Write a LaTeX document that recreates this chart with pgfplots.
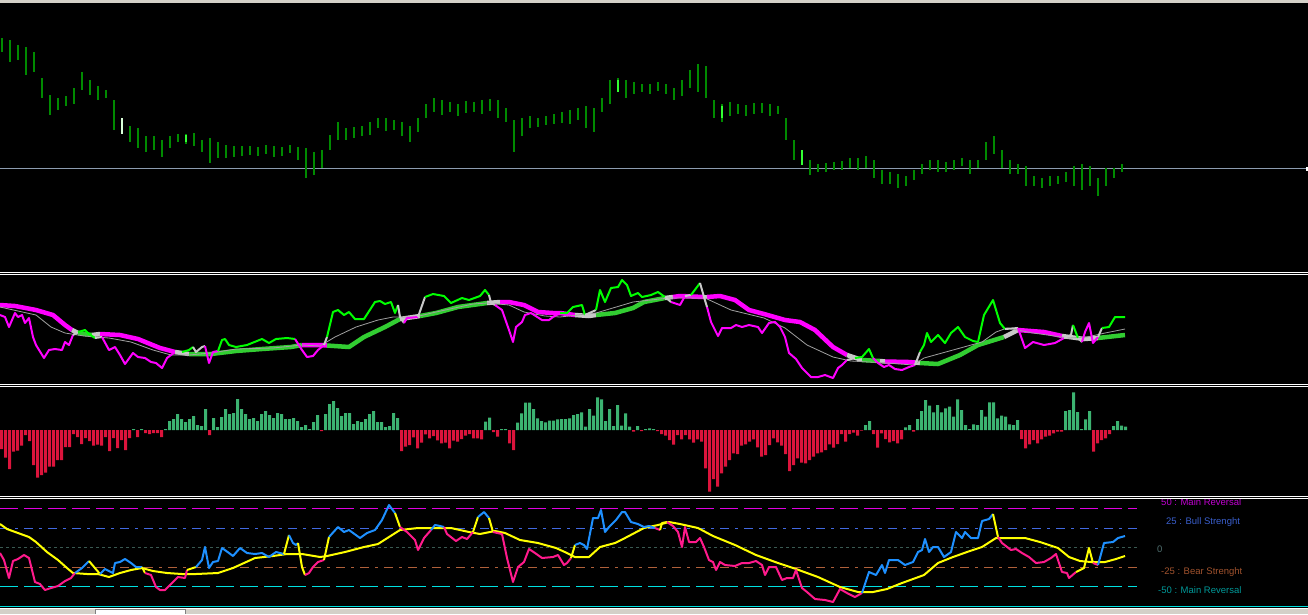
\documentclass[border=0pt]{standalone}
\usepackage{pgfplots}
\pgfplotsset{compat=1.18}
\usepackage{pgfplotstable}
\usepackage{fontspec}
\setmainfont{Liberation Sans}

\definecolor{win}{HTML}{D4D0C8}
\definecolor{barg}{HTML}{008A00}
\definecolor{barhi}{HTML}{33FF33}
\definecolor{pricel}{HTML}{8C9CB0}
\definecolor{mag}{HTML}{FF00FF}
\definecolor{lgreen}{HTML}{00FF00}
\definecolor{tgreen}{HTML}{32CD32}
\definecolor{xgray}{HTML}{C8C8C8}
\definecolor{sgray}{HTML}{A0A0A0}
\definecolor{hred}{HTML}{DC143C}
\definecolor{hgreen}{HTML}{3CB371}
\definecolor{opink}{HTML}{FF1A8C}
\definecolor{oblue}{HTML}{1E90FF}
\definecolor{oyel}{HTML}{FFFF00}
\definecolor{lvmag}{HTML}{E000E0}
\definecolor{lvblue}{HTML}{4169E1}
\definecolor{lvgray}{HTML}{3A5A52}
\definecolor{lvbrown}{HTML}{B0603A}
\definecolor{lvcyan}{HTML}{00E0E0}
\definecolor{lbmag}{HTML}{C000D0}
\definecolor{lbblue}{HTML}{3A5FCD}
\definecolor{lbgray}{HTML}{4F6F6F}
\definecolor{lbbrown}{HTML}{A0522D}
\definecolor{lbcyan}{HTML}{009999}

% panel 1: price bars, high/low in screen rows, one bar per 8 px
\pgfplotstableread[row sep=\\]{hi lo\\
38 52\\ 40 62\\ 45 60\\ 47 75\\ 52 72\\ 78 98\\ 95 115\\ 98 110\\ 96 106\\ 88 104\\
72 90\\ 80 95\\ 86 100\\ 90 98\\ 100 130\\ 118 134\\ 126 142\\ 128 148\\ 136 152\\ 136 150\\
140 157\\ 136 148\\ 134 142\\ 134 144\\ 133 146\\ 140 152\\ 138 163\\ 142 158\\ 145 158\\ 146 157\\
146 156\\ 146 155\\ 147 156\\ 145 154\\ 146 157\\ 147 156\\ 145 153\\ 147 160\\ 148 178\\ 152 175\\
150 168\\ 135 150\\ 122 140\\ 128 140\\ 127 138\\ 126 136\\ 122 135\\ 118 128\\ 118 131\\ 120 130\\
122 136\\ 126 142\\ 118 132\\ 104 118\\ 98 112\\ 100 115\\ 102 112\\ 104 116\\ 101 113\\ 102 112\\
100 114\\ 99 111\\ 100 118\\ 108 122\\ 120 152\\ 118 136\\ 116 128\\ 118 127\\ 116 125\\ 114 124\\
112 123\\ 110 124\\ 108 120\\ 106 128\\ 108 132\\ 98 112\\ 80 104\\ 78 92\\ 80 98\\ 82 94\\
84 92\\ 84 94\\ 82 91\\ 84 94\\ 88 100\\ 80 96\\ 70 88\\ 64 92\\ 66 98\\ 100 118\\
104 122\\ 102 116\\ 104 114\\ 105 116\\ 103 114\\ 103 113\\ 104 116\\ 106 114\\ 118 140\\ 140 160\\
150 165\\ 160 175\\ 164 172\\ 163 172\\ 162 170\\ 161 170\\ 158 168\\ 158 170\\ 156 168\\ 160 178\\
170 184\\ 172 184\\ 174 188\\ 176 186\\ 170 180\\ 164 174\\ 160 170\\ 160 172\\ 162 172\\ 160 170\\
158 166\\ 160 174\\ 160 168\\ 142 160\\ 136 154\\ 150 168\\ 160 174\\ 164 174\\ 166 186\\ 176 186\\
178 188\\ 176 186\\ 176 184\\ 172 182\\ 166 186\\ 164 190\\ 166 186\\ 178 196\\ 168 186\\ 168 178\\
164 172\\
}\bars
\pgfplotstableread[row sep=\\]{k hi lo\\ 23 135 142\\ 77 80 92\\ 90 106 118\\ 100 150 165\\}\barshi

% panel 2
\pgfplotstableread[row sep=\\]{x y\\
0 305\\ 15 306\\ 36 310\\ 53 315\\ 65 325\\ 72 330\\ 78 333\\ 92 335\\ 100 334\\ 120 335\\
138 339\\ 160 348\\ 175 352\\ 189 354\\ 211 354\\ 236 351\\ 262 349\\ 291 347\\ 302 345\\ 320 345\\
327 345.5\\ 349 347\\ 364 337\\ 385 327\\ 400 319\\ 420 316\\ 436 313\\ 458 307\\ 487 303\\ 500 302\\
509 302\\ 524 305\\ 538 312\\ 553 313\\ 560 313\\ 575 315\\ 589 316\\ 596 315\\ 615 313\\ 633 308\\
644 302\\ 665 298\\ 673 297\\ 680 296\\ 704 297\\ 707 297\\ 720 296\\ 735 300\\ 749 310\\ 764 314\\
785 320\\ 800 322\\ 815 330\\ 833 347\\ 847 355\\ 862 360\\ 880 361\\ 885 361.5\\ 909 362\\ 915 362.5\\
920 363\\ 938 364\\ 960 355\\ 978 345\\ 1004 337\\ 1018 330\\ 1044 332\\ 1062 336\\ 1084 339\\ 1098 338\\
1125 335\\
}\pthick
\pgfplotstableread[row sep=\\]{x y\\
0 315\\ 5 317\\ 9 327\\ 15 313\\ 18 317\\ 22 315\\ 25 323\\ 29 318\\ 33 337\\ 36 345\\
44 358\\ 49 350\\ 55 349\\ 62 350\\ 65 342\\ 69 345\\ 73 335\\ 78 332\\ 85 330\\ 89 334\\
95 338\\ 102 337\\ 109 350\\ 115 347\\ 120 355\\ 125 364\\ 133 353\\ 138 357\\ 145 358\\ 151 362\\
156 363\\ 162 368\\ 167 358\\ 175 352\\ 182 352\\ 189 350\\ 193 347\\ 196 352\\ 202 347\\ 205 346\\
209 363\\ 213 352\\ 218 351\\ 222 340\\ 225 339\\ 229 345\\ 236 347\\ 247 345\\ 262 339\\ 269 343\\
276 339\\ 287 338\\ 295 339\\ 302 350\\ 307 357\\ 313 356\\ 318 350\\ 324 345\\ 327 337\\ 333 312\\
338 310\\ 344 315\\ 349 312\\ 355 319\\ 364 319\\ 375 302\\ 380 301\\ 385 304\\ 391 302\\ 395 313\\
398 305\\ 400 317\\ 404 323\\ 407 318\\ 418 317\\ 425 297\\ 433 294\\ 444 296\\ 451 303\\ 462 298\\
469 300\\ 480 296\\ 485 290\\ 489 295\\ 491 303\\ 495 305\\ 502 310\\ 509 330\\ 513 342\\ 516 327\\
522 322\\ 525 315\\ 531 313\\ 542 320\\ 549 320\\ 553 317\\ 560 313\\ 567 313\\ 573 307\\ 582 305\\
585 315\\ 596 310\\ 600 290\\ 605 302\\ 611 288\\ 618 287\\ 622 280\\ 627 285\\ 631 296\\ 638 293\\
642 297\\ 651 295\\ 658 292\\ 665 297\\ 671 302\\ 680 305\\ 685 296\\ 691 295\\ 700 283\\ 704 297\\
707 307\\ 711 322\\ 718 336\\ 722 328\\ 731 328\\ 736 325\\ 742 327\\ 749 325\\ 758 327\\ 762 333\\
769 323\\ 775 322\\ 780 327\\ 785 337\\ 789 353\\ 796 359\\ 802 368\\ 811 377\\ 818 377\\ 825 375\\
833 378\\ 838 368\\ 842 365\\ 847 360\\ 855 358\\ 862 357\\ 869 349\\ 873 358\\ 878 363\\ 884 367\\
889 365\\ 895 369\\ 902 370\\ 909 367\\ 915 365\\ 920 352\\ 924 345\\ 927 333\\ 931 342\\ 938 335\\
945 343\\ 951 333\\ 958 327\\ 965 337\\ 973 341\\ 978 342\\ 984 315\\ 993 300\\ 1000 323\\ 1005 329\\
1018 328\\ 1025 348\\ 1033 342\\ 1044 345\\ 1055 343\\ 1064 338\\ 1071 335\\ 1073 325\\ 1078 338\\ 1082 342\\
1085 332\\ 1089 323\\ 1093 343\\ 1098 337\\ 1102 328\\ 1109 327\\ 1115 317\\ 1125 317\\
}\pthin
\pgfplotstableread[row sep=\\]{x y\\
0 307\\ 18 311\\ 36 315\\ 51 327\\ 65 333\\ 84 336\\ 109 338\\ 131 342\\ 153 350\\ 171 355\\
189 355\\ 211 353\\ 236 349\\ 273 348\\ 302 345\\ 320 346\\ 335 337\\ 356 327\\ 378 320\\ 393 317\\
415 317\\ 436 312\\ 473 304\\ 487 303\\ 509 305\\ 524 312\\ 545 316\\ 560 317\\ 596 313\\ 633 302\\
669 298\\ 705 298\\ 731 310\\ 764 318\\ 785 328\\ 807 345\\ 833 357\\ 851 361\\ 887 363\\ 913 365\\
924 358\\ 953 350\\ 982 342\\ 996 332\\ 1007 328\\ 1033 333\\ 1069 338\\ 1087 337\\ 1105 333\\ 1125 329\\
}\psmooth

% panel 3: histogram, px above (+) or below (-) the zero row, one bar per 4 px
\pgfplotstableread[row sep=\\]{h\\
-19\\ -27.7\\ -39\\ -21.7\\ -20.7\\ -15.7\\ -5\\ -11\\ -35\\ -47.7\\
-45\\ -42.7\\ -36.7\\ -36.7\\ -30\\ -30\\ -17\\ -17\\ -4\\ -7\\
-14\\ -8\\ -11\\ -15.7\\ -14.7\\ -15.7\\ -7\\ -21\\ -8\\ -18\\
-10\\ -20\\ -8\\ 1\\ -7\\ 1\\ -3\\ -4\\ -3\\ -3\\
-7\\ 1\\ 9\\ 11\\ 16\\ 11\\ 8\\ 11\\ 14\\ 5\\
4\\ 21\\ -5\\ 12\\ 3\\ 13\\ 21\\ 16\\ 17\\ 31\\
21\\ 16\\ 11\\ 12\\ 9\\ 16\\ 19\\ 15\\ 12\\ 17\\
16\\ 11\\ 11\\ 12\\ 9\\ 3\\ 5\\ 1\\ 8\\ 15\\
-1\\ 16\\ 26\\ 29\\ 22\\ 14\\ 17\\ 17\\ 6\\ 9\\
8\\ 11\\ 16\\ 19\\ 8\\ 8\\ 3\\ 4\\ 17\\ 12\\
-21\\ -16.7\\ -15\\ -7.3\\ -18.3\\ -12.7\\ -4.3\\ -8.3\\ -6\\ -10.3\\
-13.3\\ -12.7\\ -18.3\\ -10.7\\ -11.7\\ -9\\ -5.7\\ -4\\ -8.3\\ -8.3\\
-9.3\\ 8.3\\ 12.3\\ -2\\ -6.7\\ 1\\ 1\\ -13.3\\ -20\\ 7.3\\
16.7\\ 27.3\\ 27.3\\ 21\\ 11.7\\ 9\\ 7.7\\ 9.3\\ 9.3\\ 10.7\\
11\\ 11\\ 11.7\\ 15\\ 16\\ 17.7\\ 3.3\\ 21\\ 14.3\\ 32.7\\
30.7\\ 9\\ 21\\ 4\\ 25\\ 4.3\\ 16.7\\ 3.3\\ -1.7\\ 4\\
-1\\ 1\\ 1.7\\ 1\\ -1\\ -4\\ -5.7\\ -10\\ -14.7\\ -5\\
-9.3\\ -5\\ -9.3\\ -12.7\\ -9.3\\ -11.7\\ -38.3\\ -61.7\\ -49\\ -56.7\\
-43.3\\ -36.7\\ -30\\ -23.3\\ -24\\ -15.7\\ -14.3\\ -11.7\\ -9.3\\ -17.3\\
-26.7\\ -25\\ -15\\ -8.3\\ -12.3\\ -15.7\\ -24\\ -41\\ -35\\ -28.3\\
-32.7\\ -33.3\\ -30\\ -26.7\\ -23.3\\ -22.3\\ -20\\ -14.3\\ -17.7\\ -14\\
-4\\ -11.7\\ -4\\ -2.7\\ -5.7\\ -0.7\\ 5\\ 9\\ -4\\ -17.7\\
-3.3\\ -9\\ -12.3\\ -11\\ -13.3\\ -9.3\\ 2.7\\ 5\\ -1.7\\ 11\\
19\\ 30\\ 24.3\\ 17.7\\ 25\\ 17.7\\ 21.7\\ 23.3\\ 13.3\\ 30.7\\
20\\ 5\\ 1\\ 5.7\\ 5\\ 20\\ 13.3\\ 27.7\\ 27.7\\ 11.7\\
14.3\\ 13.3\\ 5.7\\ 5\\ 10\\ -9\\ -18.3\\ -14.3\\ -10\\ -13.3\\
-9.3\\ -6.7\\ -5.7\\ -3.3\\ -1.7\\ -1.7\\ 19\\ 20\\ 37.7\\ 18\\
1\\ 10.7\\ 19\\ -21.7\\ -13.3\\ -10\\ -8.3\\ -4\\ 4\\ 9\\
4.3\\ 3.3\\
}\hist

% panel 4
\pgfplotstableread[row sep=\\]{x y\\
0 553\\ 4 560\\ 9 578\\ 13 561\\ 18 559\\ 24 555\\ 29 558\\ 35 582\\ 40 584\\ 45 590\\
51 588\\ 58 586\\ 65 581\\ 71 578\\ 75 573\\ 82 568\\ 89 561\\ 100 574\\ 105 569\\ 109 571\\
113 573\\ 115 563\\ 120 562\\ 125 559\\ 131 563\\ 136 567\\ 142 567\\ 145 573\\ 151 575\\ 156 587\\
160 590\\ 165 590\\ 171 584\\ 178 577\\ 185 578\\ 187 570\\ 196 567\\ 202 560\\ 205 547\\ 209 568\\
213 562\\ 218 561\\ 222 548\\ 229 553\\ 233 556\\ 240 548\\ 247 553\\ 255 554\\ 262 553\\ 269 557\\
276 552\\ 284 554\\ 289 535\\ 293 543\\ 296 545\\ 298 543\\ 302 567\\ 305 575\\ 309 573\\ 313 567\\
318 562\\ 324 560\\ 329 537\\ 338 527\\ 344 532\\ 349 530\\ 360 538\\ 367 533\\ 375 530\\ 382 520\\
389 505\\ 395 513\\ 400 527\\ 407 532\\ 415 540\\ 418 550\\ 424 538\\ 431 530\\ 435 525\\ 440 526\\
444 527\\ 447 534\\ 456 541\\ 462 537\\ 467 539\\ 473 532\\ 478 517\\ 484 512\\ 489 518\\ 493 532\\
502 534\\ 507 558\\ 513 582\\ 518 567\\ 524 562\\ 529 549\\ 535 553\\ 542 558\\ 553 557\\ 558 555\\
564 565\\ 567 563\\ 571 558\\ 575 545\\ 580 543\\ 584 545\\ 587 549\\ 593 518\\ 598 518\\ 601 510\\
605 532\\ 609 527\\ 616 520\\ 622 512\\ 625 512\\ 631 522\\ 638 524\\ 644 527\\ 649 526\\ 655 528\\
660 530\\ 662 523\\ 667 522\\ 673 526\\ 678 532\\ 682 547\\ 685 527\\ 689 542\\ 696 542\\ 700 538\\
704 547\\ 709 560\\ 713 562\\ 716 570\\ 720 562\\ 725 565\\ 735 566\\ 742 563\\ 749 563\\ 756 561\\
762 565\\ 765 575\\ 769 567\\ 776 567\\ 782 580\\ 787 578\\ 793 578\\ 796 570\\ 802 588\\ 807 592\\
815 599\\ 825 600\\ 833 602\\ 840 589\\ 847 593\\ 855 597\\ 862 593\\ 869 572\\ 876 575\\ 882 565\\
885 573\\ 889 560\\ 898 560\\ 905 565\\ 913 562\\ 918 552\\ 922 550\\ 925 539\\ 929 552\\ 933 547\\
938 547\\ 944 557\\ 951 552\\ 956 532\\ 962 538\\ 965 532\\ 971 538\\ 978 538\\ 982 521\\ 989 519\\
993 514\\ 998 537\\ 1002 543\\ 1011 550\\ 1016 549\\ 1022 553\\ 1029 557\\ 1036 563\\ 1044 562\\ 1051 558\\
1056 554\\ 1062 572\\ 1067 573\\ 1069 578\\ 1076 572\\ 1084 568\\ 1089 548\\ 1093 563\\ 1098 565\\ 1104 543\\
1113 542\\ 1118 538\\ 1125 536\\
}\omain
\pgfplotstableread[row sep=\\]{x y\\
0 524\\ 7 529\\ 18 533\\ 29 537\\ 36 542\\ 47 552\\ 58 560\\ 67 568\\ 73 573\\ 87 574\\
98 574\\ 109 577\\ 120 573\\ 131 570\\ 142 568\\ 153 571\\ 167 573\\ 182 574\\ 196 574\\ 218 573\\
233 568\\ 255 558\\ 273 556\\ 287 554\\ 302 554\\ 320 557\\ 327 556\\ 345 552\\ 364 547\\ 378 544\\
389 537\\ 400 530\\ 418 528\\ 436 528\\ 451 528\\ 469 532\\ 480 534\\ 495 531\\ 505 533\\ 520 540\\
538 543\\ 556 548\\ 567 553\\ 575 557\\ 589 557\\ 600 547\\ 615 543\\ 625 538\\ 644 528\\ 658 525\\
669 522\\ 680 524\\ 698 528\\ 713 536\\ 735 545\\ 756 555\\ 778 563\\ 796 569\\ 818 577\\ 840 587\\
858 592\\ 873 592\\ 887 589\\ 902 583\\ 924 575\\ 938 563\\ 953 557\\ 967 552\\ 982 547\\ 996 538\\
1011 538\\ 1025 538\\ 1040 542\\ 1058 548\\ 1069 557\\ 1080 561\\ 1091 562\\ 1105 562\\ 1116 559\\ 1125 556\\
}\oyelt

\newcommand\seg[4]{\addplot[#1, line join=round, restrict x to domain=#2:#3] table[x=x,y=y]{#4};}
\pgfplotsset{panel/.style={hide axis, scale only axis, width=1308pt, clip=true,
  xmin=0, xmax=1308, anchor=north west}}

\begin{document}
\begin{tikzpicture}
\fill[black] (0,0) rectangle (1308pt,-614pt);
\fill[win] (0,0) rectangle (1308pt,-3pt);

% price bars
\begin{axis}[panel, at={(0pt,-3pt)}, height=269pt, xmin=-0.25, xmax=163.25,
  ymin=3, ymax=272, y dir=reverse]
\addplot[pricel, line width=1.2pt] coordinates {(-0.25,168.5) (163,168.5)};
\addplot[barg, line width=1.3pt, quiver={u=0, v=\thisrow{lo}-\thisrow{hi}}]
  table[x expr=\coordindex, y=hi] {\bars};
\addplot[barhi, line width=1.3pt, quiver={u=0, v=\thisrow{lo}-\thisrow{hi}}]
  table[x=k, y=hi] {\barshi};
\addplot[white!85!green, line width=1.3pt] coordinates {(15,118) (15,134)};
\end{axis}

% trend lines
\begin{axis}[panel, at={(0pt,-275pt)}, height=109pt, ymin=275, ymax=384, y dir=reverse]
\seg{mag, line width=4.5pt}{0}{72}{\pthick}
\seg{xgray, line width=4.5pt}{72}{78}{\pthick}
\seg{tgreen, line width=4.5pt}{78}{92}{\pthick}
\seg{xgray, line width=4.5pt}{92}{100}{\pthick}
\seg{mag, line width=4.5pt}{100}{175}{\pthick}
\seg{xgray, line width=4.5pt}{175}{189}{\pthick}
\seg{tgreen, line width=4.5pt}{189}{302}{\pthick}
\seg{mag, line width=4.5pt}{302}{327}{\pthick}
\seg{tgreen, line width=4.5pt}{327}{400}{\pthick}
\seg{xgray, line width=4.5pt}{400}{420}{\pthick}
\seg{tgreen, line width=4.5pt}{420}{487}{\pthick}
\seg{xgray, line width=4.5pt}{487}{500}{\pthick}
\seg{mag, line width=4.5pt}{500}{575}{\pthick}
\seg{xgray, line width=4.5pt}{575}{596}{\pthick}
\seg{tgreen, line width=4.5pt}{596}{665}{\pthick}
\seg{xgray, line width=4.5pt}{665}{673}{\pthick}
\seg{mag, line width=4.5pt}{673}{704}{\pthick}
\seg{xgray, line width=4.5pt}{704}{707}{\pthick}
\seg{mag, line width=4.5pt}{707}{847}{\pthick}
\seg{xgray, line width=4.5pt}{847}{862}{\pthick}
\seg{tgreen, line width=4.5pt}{862}{880}{\pthick}
\seg{xgray, line width=4.5pt}{880}{885}{\pthick}
\seg{mag, line width=4.5pt}{885}{915}{\pthick}
\seg{xgray, line width=4.5pt}{915}{920}{\pthick}
\seg{tgreen, line width=4.5pt}{920}{1004}{\pthick}
\seg{xgray, line width=4.5pt}{1004}{1018}{\pthick}
\seg{mag, line width=4.5pt}{1018}{1062}{\pthick}
\seg{xgray, line width=4.5pt}{1062}{1098}{\pthick}
\seg{tgreen, line width=4.5pt}{1098}{1125}{\pthick}
\addplot[sgray, line width=0.8pt] table[x=x,y=y] {\psmooth};
\seg{mag, line width=2pt}{0}{73}{\pthin}
\seg{xgray, line width=2pt}{73}{78}{\pthin}
\seg{lgreen, line width=2pt}{78}{95}{\pthin}
\seg{xgray, line width=2pt}{95}{102}{\pthin}
\seg{mag, line width=2pt}{102}{175}{\pthin}
\seg{xgray, line width=2pt}{175}{182}{\pthin}
\seg{lgreen, line width=2pt}{182}{193}{\pthin}
\seg{xgray, line width=2pt}{193}{205}{\pthin}
\seg{mag, line width=2pt}{205}{218}{\pthin}
\seg{lgreen, line width=2pt}{218}{295}{\pthin}
\seg{mag, line width=2pt}{295}{324}{\pthin}
\seg{xgray, line width=2pt}{324}{327}{\pthin}
\seg{lgreen, line width=2pt}{327}{398}{\pthin}
\seg{xgray, line width=2pt}{398}{404}{\pthin}
\seg{mag, line width=2pt}{404}{418}{\pthin}
\seg{xgray, line width=2pt}{418}{425}{\pthin}
\seg{lgreen, line width=2pt}{425}{489}{\pthin}
\seg{xgray, line width=2pt}{489}{495}{\pthin}
\seg{mag, line width=2pt}{495}{560}{\pthin}
\seg{lgreen, line width=2pt}{560}{585}{\pthin}
\seg{xgray, line width=2pt}{585}{596}{\pthin}
\seg{lgreen, line width=2pt}{596}{665}{\pthin}
\seg{xgray, line width=2pt}{665}{671}{\pthin}
\seg{mag, line width=2pt}{671}{685}{\pthin}
\seg{xgray, line width=2pt}{685}{691}{\pthin}
\seg{lgreen, line width=2pt}{691}{700}{\pthin}
\seg{xgray, line width=2pt}{700}{707}{\pthin}
\seg{mag, line width=2pt}{707}{847}{\pthin}
\seg{xgray, line width=2pt}{847}{855}{\pthin}
\seg{lgreen, line width=2pt}{855}{873}{\pthin}
\seg{mag, line width=2pt}{873}{915}{\pthin}
\seg{xgray, line width=2pt}{915}{920}{\pthin}
\seg{lgreen, line width=2pt}{920}{1005}{\pthin}
\seg{xgray, line width=2pt}{1005}{1018}{\pthin}
\seg{mag, line width=2pt}{1018}{1064}{\pthin}
\seg{xgray, line width=2pt}{1064}{1073}{\pthin}
\seg{lgreen, line width=2pt}{1073}{1078}{\pthin}
\seg{xgray, line width=2pt}{1078}{1082}{\pthin}
\seg{mag, line width=2pt}{1082}{1098}{\pthin}
\seg{xgray, line width=2pt}{1098}{1102}{\pthin}
\seg{lgreen, line width=2pt}{1102}{1125}{\pthin}
\end{axis}

% histogram
\begin{axis}[panel, at={(0pt,-387pt)}, height=109pt, xmin=-0.375, xmax=326.625,
  ymin=-66, ymax=43]
\addplot[ybar, bar width=0.75, bar shift=0, fill=hgreen, draw=none,
  restrict y to domain=0:100] table[x expr=\coordindex, y=h] {\hist};
\addplot[ybar, bar width=0.75, bar shift=0, fill=hred, draw=none,
  restrict y to domain=-100:0] table[x expr=\coordindex, y=h] {\hist};
\end{axis}

% oscillator
\begin{axis}[panel, at={(0pt,-499pt)}, height=107pt, ymin=499, ymax=606, y dir=reverse]
\addplot[lvmag, line width=1pt, dash pattern=on 18pt off 6pt] coordinates {(0,508.5) (1137,508.5)};
\addplot[lvblue, line width=1pt, dash pattern=on 9pt off 6pt on 3pt off 6pt] coordinates {(0,528.5) (1137,528.5)};
\addplot[lvgray, line width=1pt, dash pattern=on 3pt off 3pt] coordinates {(0,547.5) (1137,547.5)};
\addplot[lvbrown, line width=1pt, dash pattern=on 9pt off 6pt on 3pt off 6pt] coordinates {(0,567.5) (1137,567.5)};
\addplot[lvcyan, line width=1pt, dash pattern=on 18pt off 6pt] coordinates {(0,586.5) (1137,586.5)};
\addplot[oyel, line width=2pt, line join=round] table[x=x,y=y] {\oyelt};
\seg{opink, line width=2pt}{0}{75}{\omain}
\seg{oblue, line width=2pt}{75}{89}{\omain}
\seg{oyel, line width=2pt}{89}{100}{\omain}
\seg{oblue, line width=2pt}{100}{142}{\omain}
\seg{oyel, line width=2pt}{142}{145}{\omain}
\seg{opink, line width=2pt}{145}{187}{\omain}
\seg{oyel, line width=2pt}{187}{196}{\omain}
\seg{oblue, line width=2pt}{196}{284}{\omain}
\seg{oyel, line width=2pt}{284}{289}{\omain}
\seg{oblue, line width=2pt}{289}{298}{\omain}
\seg{oyel, line width=2pt}{298}{305}{\omain}
\seg{opink, line width=2pt}{305}{324}{\omain}
\seg{oyel, line width=2pt}{324}{329}{\omain}
\seg{oblue, line width=2pt}{329}{395}{\omain}
\seg{oyel, line width=2pt}{395}{400}{\omain}
\seg{opink, line width=2pt}{400}{431}{\omain}
\seg{oblue, line width=2pt}{431}{444}{\omain}
\seg{opink, line width=2pt}{444}{473}{\omain}
\seg{oyel, line width=2pt}{473}{478}{\omain}
\seg{oblue, line width=2pt}{478}{489}{\omain}
\seg{oyel, line width=2pt}{489}{493}{\omain}
\seg{opink, line width=2pt}{493}{571}{\omain}
\seg{oyel, line width=2pt}{571}{575}{\omain}
\seg{oblue, line width=2pt}{575}{655}{\omain}
\seg{opink, line width=2pt}{655}{660}{\omain}
\seg{oyel, line width=2pt}{660}{667}{\omain}
\seg{opink, line width=2pt}{667}{862}{\omain}
\seg{oblue, line width=2pt}{862}{993}{\omain}
\seg{oyel, line width=2pt}{993}{998}{\omain}
\seg{opink, line width=2pt}{998}{1076}{\omain}
\seg{oyel, line width=2pt}{1076}{1093}{\omain}
\seg{opink, line width=2pt}{1093}{1098}{\omain}
\seg{oblue, line width=2pt}{1098}{1125}{\omain}
\begin{scope}[every node/.style={anchor=base west, inner sep=0pt, font=\fontsize{9.5}{11}\selectfont}]
\node[text=lbmag] at (axis cs:1161,505.5) {50 : Main Reversal};
\node[text=lbblue] at (axis cs:1166,524.5) {25 : Bull Strenght};
\node[text=lbgray] at (axis cs:1157,552) {0};
\node[text=lbbrown] at (axis cs:1161,574.5) {-25 : Bear Strenght};
\node[text=lbcyan] at (axis cs:1158,593.5) {-50 : Main Reversal};
\end{scope}
\end{axis}

% window frame
\foreach \yy in {272.5,274.5,384.5,386.5,496.5,498.5}
  \draw[white, line width=1pt] (0,-\yy pt) -- (1308pt,-\yy pt);
\fill[white] (1306pt,-167pt) rectangle (1308pt,-171pt);
\draw[lvcyan, line width=1pt] (0,-606.5pt) -- (1308pt,-606.5pt);
\draw[white, line width=1pt] (0,-608pt) -- (1308pt,-608pt);
\fill[win] (0,-608.5pt) rectangle (1308pt,-614pt);
\fill[white] (95pt,-608.5pt) rectangle (185pt,-614pt);
\draw[gray] (95pt,-614pt) -- (95pt,-609pt) -- (185pt,-609pt) -- (185pt,-614pt);
\pgfresetboundingbox
\path[use as bounding box] (0,0) rectangle (1308pt,-614pt);
\end{tikzpicture}
\end{document}
